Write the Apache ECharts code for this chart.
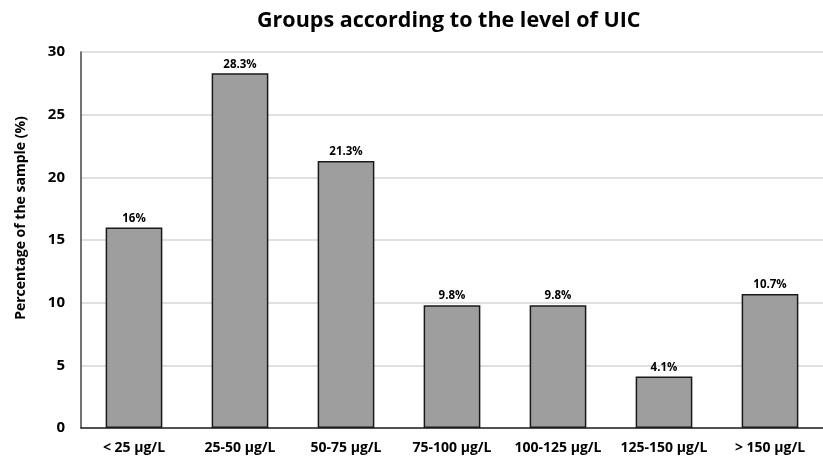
<!DOCTYPE html>
<html>
<head>
<meta charset="utf-8">
<script src="https://cdn.jsdelivr.net/npm/echarts@6/dist/echarts.min.js"></script>
<style>
  html, body { margin: 0; padding: 0; background: #fff; overflow: hidden; }
  #chart { width: 823px; height: 461px; }
</style>
</head>
<body>
<div id="chart"></div>
<script>
// UIC groups and share of the sample in each
const categories = ['< 25 μg/L', '25-50 μg/L', '50-75 μg/L', '75-100 μg/L', '100-125 μg/L', '125-150 μg/L', '> 150 μg/L'];
const percentages = [16, 28.3, 21.3, 9.8, 9.8, 4.1, 10.7];
const yTicks = [0, 5, 10, 15, 20, 25, 30];

const FONT = '"Open Sans", "Liberation Sans", sans-serif';
const chart = echarts.init(document.getElementById('chart'));

chart.setOption({
  animation: false,
  backgroundColor: '#ffffff',
  title: {
    text: 'Groups according to the level of UIC',
    left: 252,
    top: 5,
    textStyle: { fontFamily: FONT, fontWeight: 'bold', fontSize: 21.5, color: '#000' }
  },
  grid: { left: 81, right: -5, top: 52, bottom: 33, containLabel: false },
  xAxis: {
    type: 'category',
    data: categories,
    axisLine: { show: true, lineStyle: { color: '#222', width: 1.5 } },
    axisTick: { show: false },
    axisLabel: { interval: 0, fontFamily: FONT, fontWeight: 'bold', fontSize: 14, color: '#000', margin: 13 }
  },
  yAxis: {
    type: 'value',
    min: yTicks[0],
    max: yTicks[yTicks.length - 1],
    interval: 5,
    name: 'Percentage of the sample (%)',
    nameLocation: 'middle',
    nameGap: 53,
    nameTextStyle: { fontFamily: FONT, fontWeight: 'bold', fontSize: 14, color: '#000', padding: [0, 0, 0, 44] },
    axisLine: { show: true, lineStyle: { color: '#444', width: 1.5 } },
    axisTick: { show: false },
    axisLabel: { fontFamily: FONT, fontWeight: 'bold', fontSize: 15, color: '#000', margin: 16 },
    splitLine: { lineStyle: { color: '#d6d6d6', width: 1.5 } }
  },
  series: [{
    type: 'bar',
    data: percentages,
    barWidth: '53.5%',
    itemStyle: { color: '#9e9e9e', borderColor: '#1a1a1a', borderWidth: 1.5 },
    label: {
      show: true,
      position: 'top',
      distance: 3,
      formatter: p => p.value + '%',
      fontFamily: FONT,
      fontWeight: 'bold',
      fontSize: 11.5,
      color: '#000'
    }
  }]
});
</script>
</body>
</html>
